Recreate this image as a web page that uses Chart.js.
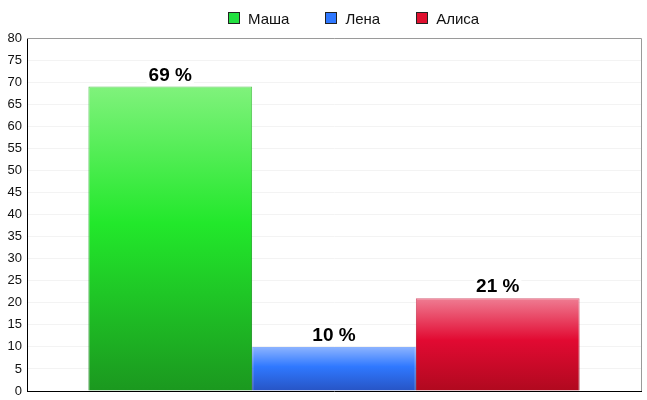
<!DOCTYPE html>
<html>
<head>
<meta charset="utf-8">
<script src="https://cdn.jsdelivr.net/npm/chart.js@4"></script>
<style>
  html, body { margin: 0; padding: 0; background: #fff; }
  #wrap { position: relative; width: 647px; height: 400px; }
  #legend { position: absolute; top: 8px; left: 228px; height: 20px; display: flex; align-items: center; font-family: "Liberation Sans", Arial, sans-serif; font-size: 15px; color: #111; white-space: nowrap; }
  #legend span.item { display: flex; align-items: center; margin-right: 36px; height: 20px; }
  #legend span.box { display: inline-block; width: 10px; height: 10px; border: 1px solid #222; margin-right: 8px; }
</style>
</head>
<body>
<div id="wrap">
  <canvas id="c" width="647" height="400"></canvas>
  <div id="legend"></div>
</div>
<script>
const categories = [""];
const seriesNames = ["Маша", "Лена", "Алиса"];
const mashaValues = [69];
const lenaValues = [10];
const alisaValues = [21];
const yTicks = [0, 5, 10, 15, 20, 25, 30, 35, 40, 45, 50, 55, 60, 65, 70, 75, 80];

const palettes = [
  { top: "#80f27c", mid: "#22e82b", bottom: "#1b981f", bTop: "#5cc85a", bMid: "#18b020", bBottom: "#127a16", box: "#22e040" },
  { top: "#8db4ff", mid: "#2f78ff", bottom: "#2754c4", bTop: "#8db4ff", bMid: "#2a68e0", bBottom: "#1a3f9a", box: "#2f78ff" },
  { top: "#ef7c92", mid: "#e20a32", bottom: "#b0091f", bTop: "#d86078", bMid: "#c00828", bBottom: "#8a0618", box: "#e0102f" }
];

function gradientFor(idx, border) {
  return function (context) {
    const chart = context.chart;
    const area = chart.chartArea;
    const p = palettes[idx];
    if (!area) return border ? p.bMid : p.mid;
    const yScale = chart.scales.y;
    const top = yScale.getPixelForValue(context.raw);
    const base = yScale.getPixelForValue(0);
    const g = chart.ctx.createLinearGradient(0, top, 0, base);
    g.addColorStop(0, border ? p.bTop : p.top);
    g.addColorStop(0.45, border ? p.bMid : p.mid);
    g.addColorStop(1, border ? p.bBottom : p.bottom);
    return g;
  };
}

const valueSets = [mashaValues, lenaValues, alisaValues];
const datasets = seriesNames.map((name, i) => ({
  label: name,
  data: valueSets[i],
  backgroundColor: gradientFor(i, false),
  borderColor: gradientFor(i, true),
  borderWidth: 1,
  categoryPercentage: 0.8,
  barPercentage: 1.0
}));

const labelPlugin = {
  id: "valueLabels",
  afterDatasetsDraw(chart) {
    const ctx = chart.ctx;
    ctx.save();
    ctx.font = "bold 19px 'Liberation Sans', Arial, sans-serif";
    ctx.textAlign = "center";
    ctx.textBaseline = "alphabetic";
    chart.data.datasets.forEach((ds, i) => {
      const meta = chart.getDatasetMeta(i);
      meta.data.forEach((bar, j) => {
        const txt = ds.data[j] + " %";
        const w = ctx.measureText(txt).width;
        ctx.fillStyle = "#fff";
        ctx.fillRect(bar.x - w / 2 - 2, bar.y - 22, w + 4, 20);
        ctx.fillStyle = "#000";
        ctx.fillText(txt, bar.x, bar.y - 6);
      });
    });
    ctx.restore();
  }
};

const framePlugin = {
  id: "frame",
  afterDraw(chart) {
    const a = chart.chartArea;
    const ctx = chart.ctx;
    ctx.save();
    ctx.strokeStyle = "#9a9a9a";
    ctx.lineWidth = 1;
    ctx.beginPath();
    ctx.moveTo(a.left, a.top + 0.5);
    ctx.lineTo(a.right + 0.5, a.top + 0.5);
    ctx.lineTo(a.right + 0.5, a.bottom);
    ctx.stroke();
    ctx.restore();
  }
};

const chart = new Chart(document.getElementById("c"), {
  type: "bar",
  data: { labels: categories, datasets: datasets },
  options: {
    responsive: false,
    animation: false,
    layout: { padding: { top: 38, right: 6, bottom: 9, left: 0 } },
    plugins: {
      legend: { display: false },
      tooltip: { enabled: false }
    },
    scales: {
      x: {
        ticks: { display: false },
        grid: { display: false },
        border: { display: true, color: "#000", width: 1 },
        afterFit(scale) { scale.height = 0; scale.paddingLeft = 0; scale.paddingRight = 0; }
      },
      y: {
        min: 0,
        max: 80,
        afterBuildTicks(scale) { scale.ticks = yTicks.map(v => ({ value: v })); },
        ticks: {
          color: "#111",
          padding: 5,
          font: { family: "'Liberation Sans', Arial, sans-serif", size: 13 }
        },
        grid: { color: "#f3f3f3", drawTicks: false },
        border: { display: true, color: "#000", width: 1 },
        afterFit(scale) { scale.width = 27; scale.paddingTop = 0; scale.paddingBottom = 0; }
      }
    }
  },
  plugins: [labelPlugin, framePlugin]
});

const legend = document.getElementById("legend");
seriesNames.forEach((name, i) => {
  const item = document.createElement("span");
  item.className = "item";
  const box = document.createElement("span");
  box.className = "box";
  box.style.background = palettes[i].box;
  item.appendChild(box);
  item.appendChild(document.createTextNode(name));
  legend.appendChild(item);
});
</script>
</body>
</html>
